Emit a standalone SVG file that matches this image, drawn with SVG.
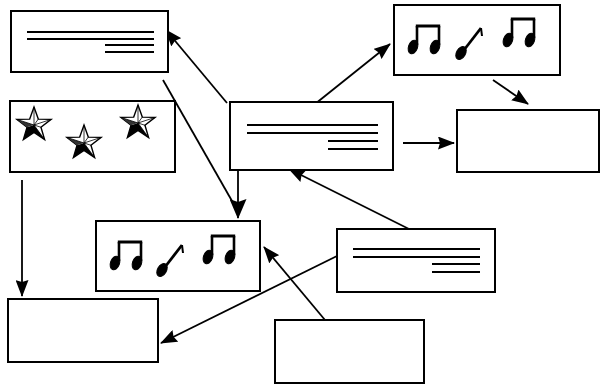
<svg xmlns="http://www.w3.org/2000/svg" width="601" height="385" viewBox="0 0 601 385">
  <style>
    .box { fill: #fff; stroke: #000; stroke-width: 2; }
    .txt { stroke: #000; stroke-width: 2; }
    .edge { stroke: #000; stroke-width: 1.8; fill: none; }
    .ink { fill: #000; stroke: #000; }
  </style>
  <defs>
    <marker id="arr" viewBox="0 0 17 13" refX="16" refY="6.5" markerWidth="17" markerHeight="13" markerUnits="userSpaceOnUse" orient="auto">
      <path d="M0,0 L17,6.5 L0,13 L2,6.5 z" fill="#000"/>
    </marker>
    <marker id="bigarr" viewBox="0 0 20 17" refX="19" refY="8.5" markerWidth="20" markerHeight="17" markerUnits="userSpaceOnUse" orient="auto">
      <path d="M0,0 L20,8.5 L0,17 L3,8.5 z" fill="#000"/>
    </marker>
    <!-- two beamed eighth notes -->
    <g id="pair">
      <ellipse cx="0" cy="0" rx="4.5" ry="7" transform="rotate(20)" class="ink"/>
      <ellipse cx="22" cy="0" rx="4.5" ry="7" transform="rotate(20 22 0)" class="ink"/>
      <path d="M4,-2 V-21 M26,-2 V-21" stroke="#000" stroke-width="2.6"/>
      <path d="M2.8,-21 H27.2" stroke="#000" stroke-width="3"/>
    </g>
    <!-- single eighth note -->
    <g id="single">
      <ellipse cx="0" cy="0" rx="4.5" ry="7" transform="rotate(30)" class="ink"/>
      <path d="M3,-3 L20,-25" stroke="#000" stroke-width="2.8"/>
      <path d="M20,-25 L21,-17" stroke="#000" stroke-width="2"/>
    </g>
    <!-- shaded star -->
    <g id="star">
      <polygon points="0,-18 4.3,-5.9 17.1,-5.6 6.95,2.26 10.6,14.6 0,7.3 -10.6,14.6 -6.95,2.26 -17.1,-5.6 -4.3,-5.9" fill="#fff" stroke="#000" stroke-width="1.4"/>
      <polygon points="0,0 -6.95,2.26 -10.6,14.6 0,7.3" fill="#000"/>
      <polygon points="0,0 0,7.3 10.6,14.6" fill="#000"/>
      <polygon points="0,0 -17.1,-5.6 -6.95,2.26" fill="#333"/>
      <path d="M0,0 L0,-18 M0,0 L17.1,-5.6 M0,0 L10.6,14.6 M0,0 L-10.6,14.6 M0,0 L-17.1,-5.6 M0,0 L4.3,-5.9 M0,0 L6.95,2.26" stroke="#000" stroke-width="0.8"/>
    </g>
  </defs>

  <g id="connectors">
    <line class="edge" x1="227" y1="103" x2="166" y2="30" marker-end="url(#arr)"/>
    <line class="edge" x1="163" y1="80" x2="236" y2="208"/>
    <line class="edge" x1="238" y1="170" x2="238" y2="218" stroke-width="2.4" marker-end="url(#bigarr)"/>
    <line class="edge" x1="315" y1="104" x2="390" y2="44" marker-end="url(#arr)"/>
    <line class="edge" x1="493" y1="80" x2="528" y2="104" marker-end="url(#arr)"/>
    <line class="edge" x1="403" y1="143" x2="454" y2="143" marker-end="url(#arr)"/>
    <line class="edge" x1="413" y1="231" x2="289" y2="169" marker-end="url(#arr)"/>
    <line class="edge" x1="22" y1="180" x2="22" y2="296" marker-end="url(#arr)"/>
    <line class="edge" x1="337" y1="256" x2="161" y2="343" marker-end="url(#arr)"/>
    <line class="edge" x1="325" y1="320" x2="264" y2="247" marker-end="url(#arr)"/>
  </g>

  <g id="node-text-top">
    <rect class="box" x="11" y="11" width="157" height="61"/>
    <path class="txt" d="M27,32 H154 M27,39 H154 M105,45 H154 M105,52 H154"/>
  </g>

  <g id="node-music-top">
    <rect class="box" x="394" y="5" width="166" height="70"/>
    <use href="#pair" x="413" y="47"/>
    <use href="#single" x="461" y="53"/>
    <use href="#pair" x="508" y="40"/>
  </g>

  <g id="node-stars">
    <rect class="box" x="10" y="101" width="165" height="71"/>
    <use href="#star" x="34" y="125"/>
    <use href="#star" x="84" y="143"/>
    <use href="#star" x="138" y="123"/>
  </g>

  <g id="node-text-center">
    <rect class="box" x="230" y="102" width="163" height="68"/>
    <path class="txt" d="M247,125 H378 M247,133 H378 M328,141 H378 M328,149 H378"/>
  </g>

  <g id="node-empty-right">
    <rect class="box" x="457" y="110" width="142" height="62"/>
  </g>

  <g id="node-music-center">
    <rect class="box" x="96" y="221" width="164" height="70"/>
    <use href="#pair" x="115" y="263"/>
    <use href="#single" x="162" y="270"/>
    <use href="#pair" x="208" y="257"/>
  </g>

  <g id="node-text-right">
    <rect class="box" x="337" y="229" width="158" height="63"/>
    <path class="txt" d="M353,249 H480 M353,257 H480 M432,264 H480 M432,272 H480"/>
  </g>

  <g id="node-empty-left">
    <rect class="box" x="8" y="299" width="150" height="63"/>
  </g>

  <g id="node-empty-bottom">
    <rect class="box" x="275" y="320" width="149" height="63"/>
  </g>
</svg>
